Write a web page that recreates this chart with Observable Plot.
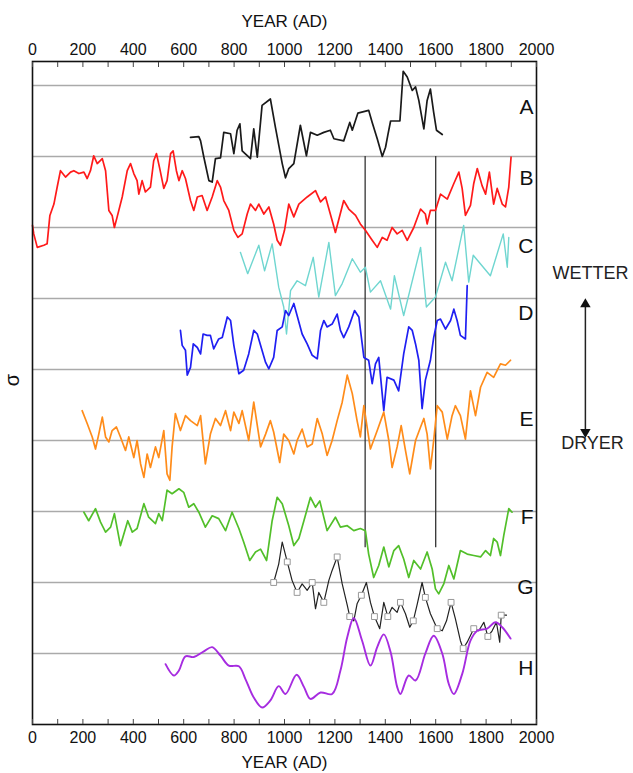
<!DOCTYPE html>
<html><head><meta charset="utf-8">
<script src="https://cdn.jsdelivr.net/npm/d3@7"></script>
<script src="https://cdn.jsdelivr.net/npm/@observablehq/plot@0.6"></script>
<style>body{margin:0;background:#fff}</style>
</head><body><div id="chart"></div>
<script>
// Series values: [year AD, stacked sigma position (grid units, 0 = top gridline, increasing downward)]
const seriesA = [[627,0.73],[660,0.72],[667,0.78],[680,1.01],[700,1.34],[713,1.36],[726,1.03],[746,1.02],[759,0.66],[786,0.68],[799,0.96],[812,0.63],[823,0.54],[832,0.92],[865,1.03],[878,0.61],[892,1.01],[911,0.28],[944,0.19],[964,0.59],[991,1.10],[1004,1.30],[1017,1.17],[1037,1.10],[1063,0.56],[1087,0.99],[1103,0.66],[1130,0.70],[1156,0.66],[1182,0.63],[1196,0.75],[1235,0.78],[1259,0.52],[1269,0.63],[1291,0.39],[1334,0.35],[1348,0.52],[1368,0.75],[1388,1.00],[1401,0.87],[1410,0.70],[1421,0.50],[1447,0.50],[1458,0.50],[1471,-0.20],[1487,-0.12],[1507,0.07],[1520,0.02],[1533,0.21],[1553,0.61],[1566,0.21],[1579,0.05],[1592,0.38],[1603,0.63],[1626,0.69]];
const seriesB = [[0,1.97],[5,2.09],[19,2.28],[45,2.25],[58,2.23],[69,1.83],[85,1.67],[98,1.43],[111,1.20],[131,1.29],[151,1.22],[164,1.20],[184,1.24],[204,1.22],[217,1.31],[230,1.20],[243,0.99],[257,1.10],[277,1.03],[290,1.20],[303,1.76],[316,1.83],[325,2.00],[336,1.85],[356,1.57],[376,1.20],[389,1.10],[402,1.24],[415,1.34],[422,1.53],[435,1.34],[448,1.50],[468,1.43],[481,1.06],[492,0.96],[505,1.17],[521,1.45],[534,1.34],[548,0.96],[558,0.92],[571,1.20],[581,1.34],[594,1.20],[607,1.31],[627,1.62],[640,1.76],[654,1.57],[673,1.55],[693,1.76],[713,1.57],[733,1.34],[746,1.43],[759,1.62],[779,1.76],[799,2.04],[815,2.14],[832,2.09],[852,1.81],[865,1.67],[885,1.76],[898,1.67],[918,1.81],[938,1.71],[957,1.95],[971,2.18],[984,2.25],[1000,2.04],[1017,1.67],[1037,1.85],[1057,1.67],[1090,1.57],[1123,1.48],[1143,1.64],[1163,1.57],[1189,1.90],[1202,2.07],[1235,1.62],[1255,1.74],[1282,1.83],[1301,1.95],[1321,2.04],[1348,2.18],[1368,2.28],[1388,2.14],[1407,2.18],[1427,2.00],[1447,2.09],[1467,2.04],[1487,2.18],[1513,2.00],[1540,1.74],[1559,1.81],[1566,1.95],[1579,1.76],[1599,1.76],[1619,1.53],[1646,1.60],[1672,1.38],[1692,1.22],[1705,1.45],[1718,1.83],[1738,1.69],[1751,1.38],[1765,1.17],[1784,1.41],[1798,1.53],[1813,1.22],[1830,1.67],[1844,1.45],[1864,1.67],[1877,1.71],[1890,1.43],[1899,1.01]];
const seriesC = [[825,2.35],[854,2.65],[898,2.25],[921,2.61],[951,2.23],[977,2.84],[997,3.12],[1008,3.50],[1024,2.89],[1050,2.75],[1083,2.82],[1114,2.42],[1136,2.98],[1176,2.21],[1202,2.96],[1229,2.79],[1269,2.44],[1301,2.63],[1321,2.56],[1341,2.91],[1381,2.75],[1421,3.15],[1436,2.68],[1473,3.24],[1540,2.28],[1563,3.12],[1599,2.98],[1639,2.49],[1665,2.75],[1711,1.97],[1731,2.77],[1749,2.39],[1817,2.68],[1868,2.09],[1884,2.56],[1890,2.14]];
const seriesD = [[587,3.45],[594,3.66],[607,3.73],[614,4.08],[627,3.97],[638,3.64],[654,3.69],[667,3.78],[677,3.50],[693,3.52],[706,3.52],[719,3.71],[739,3.57],[753,3.55],[773,3.26],[786,3.31],[799,3.66],[819,4.06],[838,4.01],[858,3.78],[878,3.45],[892,3.50],[905,3.66],[925,3.90],[938,3.99],[957,3.83],[971,3.45],[991,3.40],[1004,3.17],[1017,3.24],[1037,3.07],[1050,3.24],[1070,3.50],[1090,3.64],[1110,3.80],[1130,3.85],[1143,3.45],[1156,3.31],[1169,3.40],[1189,3.36],[1209,3.22],[1222,3.45],[1235,3.55],[1255,3.40],[1278,3.17],[1295,3.26],[1315,3.83],[1334,3.87],[1348,4.20],[1361,3.92],[1374,3.83],[1394,4.58],[1407,4.11],[1434,4.15],[1453,4.30],[1473,3.78],[1493,3.40],[1507,3.45],[1520,3.64],[1533,3.87],[1546,4.55],[1559,4.15],[1579,3.87],[1592,3.55],[1606,3.31],[1619,3.29],[1639,3.43],[1659,3.31],[1672,3.15],[1685,3.31],[1698,3.52],[1718,3.57],[1725,2.82]];
const seriesE = [[197,4.58],[217,4.76],[237,4.95],[250,5.12],[263,4.91],[277,4.67],[290,4.95],[303,5.02],[316,4.86],[333,4.81],[349,4.95],[369,5.14],[382,4.95],[402,5.24],[415,5.00],[429,5.33],[442,5.52],[455,5.19],[468,5.38],[488,5.09],[501,5.24],[521,4.86],[534,5.47],[545,5.56],[554,5.09],[567,4.62],[587,4.86],[607,4.65],[627,4.72],[654,4.79],[667,4.65],[686,5.33],[706,4.91],[726,4.69],[746,4.79],[766,4.58],[786,4.86],[799,4.60],[819,4.76],[832,4.58],[858,5.00],[878,4.46],[905,5.09],[925,4.91],[944,4.72],[957,4.88],[981,5.31],[997,4.91],[1017,5.00],[1037,5.19],[1050,5.00],[1070,4.84],[1090,5.09],[1110,5.05],[1130,4.69],[1150,4.91],[1169,5.21],[1189,5.00],[1209,4.72],[1229,4.46],[1249,4.08],[1269,4.34],[1288,4.72],[1301,4.95],[1315,4.51],[1341,5.12],[1368,4.86],[1394,4.60],[1414,5.00],[1427,5.38],[1447,5.09],[1463,4.79],[1480,5.14],[1497,5.47],[1520,5.00],[1540,4.81],[1553,4.69],[1566,4.91],[1579,5.40],[1592,5.00],[1606,4.51],[1626,4.60],[1646,4.98],[1665,4.65],[1678,4.51],[1698,4.65],[1718,4.98],[1738,4.30],[1758,4.65],[1778,4.25],[1804,4.04],[1830,4.11],[1857,3.92],[1877,3.94],[1897,3.87]];
const seriesF = [[204,6.01],[223,6.13],[250,5.96],[270,6.15],[290,6.29],[310,6.22],[325,6.03],[349,6.48],[378,6.13],[396,6.29],[415,6.24],[442,5.89],[461,6.08],[488,6.17],[501,6.03],[515,6.13],[534,5.70],[554,5.75],[581,5.68],[600,5.73],[620,5.94],[640,5.89],[660,6.01],[686,6.22],[713,6.06],[739,6.10],[766,6.27],[792,6.01],[819,6.24],[838,6.43],[862,6.69],[885,6.57],[905,6.53],[929,6.69],[951,6.13],[971,5.80],[991,5.89],[1017,6.20],[1037,6.48],[1057,6.38],[1077,6.13],[1103,5.80],[1123,5.94],[1140,5.85],[1169,6.27],[1202,6.08],[1222,6.22],[1249,6.20],[1275,6.27],[1301,6.24],[1321,6.27],[1334,6.60],[1354,6.93],[1374,6.76],[1394,6.50],[1414,6.78],[1434,6.55],[1453,6.48],[1473,6.67],[1493,6.93],[1513,6.69],[1540,6.81],[1566,6.57],[1586,6.81],[1599,7.09],[1612,7.16],[1632,7.02],[1652,6.76],[1672,6.95],[1698,6.55],[1725,6.60],[1751,6.62],[1778,6.64],[1798,6.55],[1817,6.62],[1830,6.38],[1844,6.43],[1857,6.62],[1870,6.34],[1890,5.96],[1903,6.01]];
const seriesG = [[957,7.00],[977,6.74],[991,6.43],[1011,6.71],[1030,6.97],[1050,7.14],[1070,7.02],[1090,7.11],[1110,7.00],[1123,7.37],[1136,7.14],[1156,7.28],[1176,6.97],[1189,6.83],[1209,6.64],[1229,7.02],[1249,7.32],[1259,7.48],[1275,7.54],[1288,7.30],[1305,7.18],[1325,7.00],[1341,7.28],[1357,7.48],[1378,7.65],[1394,7.28],[1410,7.48],[1427,7.35],[1447,7.42],[1460,7.28],[1480,7.44],[1497,7.63],[1511,7.54],[1527,7.30],[1546,7.00],[1559,7.21],[1579,7.44],[1606,7.65],[1626,7.68],[1643,7.54],[1661,7.28],[1678,7.51],[1698,7.82],[1709,7.93],[1725,7.84],[1751,7.65],[1771,7.68],[1791,7.56],[1807,7.76],[1824,7.68],[1841,7.56],[1854,7.84],[1860,7.46],[1881,7.46]];
const seriesGMarkers = [[957,7.00],[1011,6.71],[1050,7.14],[1110,7.00],[1156,7.28],[1209,6.64],[1259,7.48],[1305,7.18],[1357,7.48],[1410,7.48],[1460,7.28],[1511,7.54],[1559,7.21],[1606,7.65],[1661,7.28],[1709,7.93],[1751,7.65],[1807,7.76],[1860,7.46]];
const seriesH = [[528,8.15],[561,8.31],[581,8.24],[607,8.04],[640,8.05],[680,7.97],[713,7.91],[746,8.03],[779,8.17],[819,8.18],[845,8.36],[878,8.62],[911,8.76],[944,8.66],[977,8.46],[1004,8.57],[1048,8.30],[1077,8.47],[1103,8.64],[1143,8.55],[1189,8.57],[1222,8.24],[1249,7.77],[1275,7.50],[1308,7.82],[1341,8.17],[1368,7.91],[1394,7.73],[1421,7.98],[1447,8.47],[1460,8.57],[1493,8.31],[1520,8.38],[1559,8.00],[1592,7.75],[1626,8.00],[1652,8.43],[1672,8.57],[1705,8.29],[1738,7.82],[1765,7.68],[1804,7.65],[1837,7.56],[1864,7.63],[1897,7.79]];

const seriesNames = ["A","B","C","D","E","F","G","H"];
const labelLevels = [0.31, 1.30, 2.27, 3.21, 4.70, 6.08, 7.07, 8.21];
const gridLevels = [0,1,2,3,4,5,6,7,8];
const eventYears = [1320, 1600];
const majorTicks = [0,200,400,600,800,1000,1200,1400,1600,1800,2000];
const minorTicks = d3.range(0, 2001, 100);
const xTitle = "YEAR (AD)";
const yTitle = "σ";
const wetLabel = "WETTER", dryLabel = "DRYER";

const rows = (arr) => arr.map(([year, v]) => ({year, v}));
const FONT = "Liberation Sans, Arial, Helvetica, sans-serif";
const ARROW_X = 2194;

const lineOpts = (stroke, w = 1.7, curve = "linear") => ({x: "year", y: "v", stroke, strokeWidth: w, curve, strokeLinejoin: "round"});

const chart = Plot.plot({
  width: 633, height: 773,
  marginTop: 61, marginBottom: 49, marginLeft: 32, marginRight: 97,
  style: {fontFamily: FONT, fontSize: "16px", color: "#111", background: "#fff", overflow: "visible"},
  x: {domain: [0, 2000]},
  y: {domain: [-0.338, 9.0], reverse: true, axis: null},
  marks: [
    Plot.ruleY(gridLevels, {stroke: "#aaaaaa", strokeWidth: 1.3}),
    Plot.ruleX(eventYears, {y1: 1, y2: 6.51, stroke: "#333", strokeWidth: 1.3}),
    Plot.line(rows(seriesA), lineOpts("#1a1a1a")),
    Plot.line(rows(seriesB), lineOpts("#ff1a1a")),
    Plot.line(rows(seriesC), lineOpts("#6fd6d0", 1.4)),
    Plot.line(rows(seriesD), lineOpts("#1f1ff2")),
    Plot.line(rows(seriesE), lineOpts("#ff8c1a")),
    Plot.line(rows(seriesF), lineOpts("#52bf2a")),
    Plot.line(rows(seriesG), lineOpts("#222", 1.2)),
    Plot.dot(rows(seriesGMarkers), {x: "year", y: "v", symbol: "square", r: 3.3, fill: "white", stroke: "#999", strokeWidth: 1}),
    Plot.line(rows(seriesH), lineOpts("#a62ce0", 1.9, "catmull-rom")),
    Plot.frame({stroke: "#111", strokeWidth: 1.6}),
    Plot.axisX({anchor: "top", ticks: minorTicks, tickSize: 5, dy: 5, tickFormat: () => "", fill: "none", label: null, stroke: "#444"}),
    Plot.axisX({anchor: "bottom", ticks: minorTicks, tickSize: 5, dy: -5, tickFormat: () => "", fill: "none", label: null, stroke: "#444"}),
    Plot.axisX({anchor: "top", ticks: majorTicks, tickSize: 0, tickPadding: 7, label: null, fontSize: 16, tickFormat: d3.format("d")}),
    Plot.axisX({anchor: "bottom", ticks: majorTicks, tickSize: 0, tickPadding: 7, label: null, fontSize: 16, tickFormat: d3.format("d")}),
    Plot.text([xTitle], {frameAnchor: "top", dy: -40, textAnchor: "middle", lineAnchor: "middle", fontSize: 17, fill: "#111"}),
    Plot.text([xTitle], {frameAnchor: "bottom", dy: 38, textAnchor: "middle", lineAnchor: "middle", fontSize: 17, fill: "#111"}),
    Plot.text(seriesNames, {frameAnchor: "right", y: (d, i) => labelLevels[i], textAnchor: "end", lineAnchor: "middle", dx: -3, fontSize: 21, fill: "#111"}),
    Plot.text([yTitle], {frameAnchor: "left", y: 4.15, dx: -20, rotate: -90, fontSize: 20, textAnchor: "middle", lineAnchor: "middle", fill: "#111"}),
    Plot.text([wetLabel], {frameAnchor: "right", y: 2.65, dx: 54, textAnchor: "middle", lineAnchor: "middle", fontSize: 18, fill: "#222"}),
    Plot.text([dryLabel], {frameAnchor: "right", y: 5.04, dx: 56, textAnchor: "middle", lineAnchor: "middle", fontSize: 18, fill: "#222"}),
    Plot.link([0], {x1: ARROW_X, x2: ARROW_X, y1: 3.12, y2: 4.84, stroke: "#222", strokeWidth: 1.5}),
    Plot.dot([0], {x: ARROW_X, y: 3.08, symbol: "triangle2", r: 5, fill: "#111", stroke: "none"}),
    Plot.dot([0], {x: ARROW_X, y: 4.88, symbol: "triangle2", r: 5, fill: "#111", stroke: "none", rotate: 180})
  ]
});
document.getElementById("chart").append(chart);
</script>
</body></html>
